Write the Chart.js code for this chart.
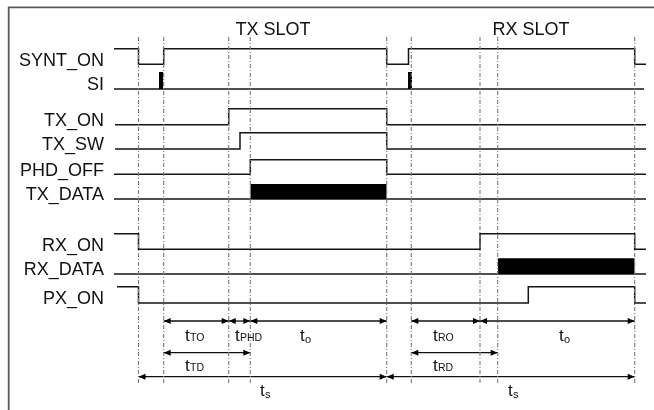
<!DOCTYPE html>
<html>
<head>
<meta charset="utf-8">
<script src="https://cdn.jsdelivr.net/npm/chart.js@4"></script>
<style>
  html, body { margin: 0; padding: 0; background: #fff; }
  #wrap { width: 654px; height: 410px; }
</style>
</head>
<body>
<div id="wrap"><canvas id="chart"></canvas></div>
<script>
// time axis runs 0..654, level axis 0..410 (top to bottom)
const signalNames = ['SYNT_ON', 'SI', 'TX_ON', 'TX_SW', 'PHD_OFF', 'TX_DATA', 'RX_ON', 'RX_DATA', 'PX_ON'];
const lowLevels  = [64.3, 89, 124.7, 149, 174.3, 199, 249.3, 274, 303];
const highLevels = [48.7, 72, 108.7, 132.7, 159.7, 184, 233.7, 258.3, 286.7];

// [time, state] : state holds from that time on
const syntOn = [[114, 1], [138.5, 0], [163.7, 1], [386.7, 0], [408.5, 1], [634.7, 0], [646, 0]];
const si     = [[114, 0], [644, 0]];
const txOn   = [[115, 0], [228.7, 1], [386.7, 0], [646, 0]];
const txSw   = [[115, 0], [240, 1], [386.7, 0], [646, 0]];
const phdOff = [[114, 0], [250.3, 1], [386.7, 0], [646, 0]];
const txData = [[114, 0], [646, 0]];
const rxOn   = [[114, 1], [138.5, 0], [480, 1], [634.7, 0], [646, 0]];
const rxData = [[114, 0], [646, 0]];
const pxOn   = [[117, 1], [138.5, 0], [528.3, 1], [634.7, 0], [646, 0]];
const waves = [syntOn, si, txOn, txSw, phdOff, txData, rxOn, rxData, pxOn];
const heavyLead = [false, false, true, true, true, true, false, false, false];

// filled pulses / data bursts: [signal index, start, end]
const bursts = [[1, 159, 163.3], [1, 408, 412], [5, 250.3, 386.7], [7, 497.7, 634.7]];

// dashed reference instants
const markers = [138.5, 163.7, 228.7, 250.3, 386.7, 411.3, 480, 497.7, 634.7];
const markerTop = 37;
const markerBottom = 385;

// interval arrows
const spanFrom = [163.7, 228.7, 250.3, 411.3, 480, 163.7, 411.3, 138.5, 386.7];
const spanTo   = [228.7, 250.3, 386.7, 480, 634.7, 250.3, 497.7, 386.7, 634.7];
const spanRow  = [0, 0, 0, 0, 0, 1, 1, 2, 2];
const rowLevels = [321, 352.7, 376.7];

// interval labels
const spanSub   = ['TO', 'PHD', 'o', 'RO', 'o', 'TD', 'RD', 's', 's'];
const spanTextX = [185, 235, 300, 433, 559, 185, 433, 260, 508];
const spanTextY = [340.5, 340.5, 340.5, 340.5, 340.5, 371, 371, 395.5, 395.5];

const slotTitles = ['TX SLOT', 'RX SLOT'];
const slotX = [273, 531];
const slotY = 35.3;

const datasets = [];

// frame
datasets.push({
  data: [{x: 8.7, y: 420}, {x: 8.7, y: 7.3}, {x: 670, y: 7.3}],
  borderColor: '#5a5a5a', borderWidth: 1.8
});

markers.forEach(m => datasets.push({
  data: [{x: m, y: markerTop}, {x: m, y: markerBottom}],
  borderColor: '#7a7a7a', borderWidth: 1.1, borderDash: [4, 2, 1, 2]
}));

bursts.forEach(b => datasets.push({
  data: [{x: b[1], y: highLevels[b[0]]}, {x: b[2], y: highLevels[b[0]]}],
  borderWidth: 0, backgroundColor: '#000',
  fill: {value: lowLevels[b[0]]}
}));

waves.forEach((w, i) => datasets.push({
  data: w.map(e => ({x: e[0], y: e[1] ? highLevels[i] : lowLevels[i]})),
  stepped: 'before',
  borderColor: '#151515', borderWidth: 1.5,
  segment: {
    borderWidth: ctx => (heavyLead[i] && ctx.p1.parsed.x <= 139) ? 2.4 : 1.5,
    borderColor: ctx => (heavyLead[i] && ctx.p1.parsed.x <= 139) ? '#000' : '#151515'
  }
}));

const arrowStart = datasets.length;
spanFrom.forEach((f, i) => datasets.push({
  data: [{x: f, y: rowLevels[spanRow[i]]}, {x: spanTo[i], y: rowLevels[spanRow[i]]}],
  borderColor: '#111', borderWidth: 1.3
}));

const decor = {
  id: 'decor',
  afterDatasetsDraw(chart) {
    const {ctx, scales: {x, y}} = chart;
    ctx.save();
    // arrowheads
    ctx.fillStyle = '#000';
    for (let i = 0; i < spanFrom.length; i++) {
      const pts = chart.getDatasetMeta(arrowStart + i).data;
      const a = pts[0], b = pts[1];
      [[a.x, 1], [b.x, -1]].forEach(([px, dir]) => {
        ctx.beginPath();
        ctx.moveTo(px, a.y);
        ctx.lineTo(px + dir * 7, a.y - 3);
        ctx.lineTo(px + dir * 7, a.y + 3);
        ctx.closePath();
        ctx.fill();
      });
    }
    // signal names
    ctx.fillStyle = '#111';
    ctx.font = '18px "Liberation Sans", Arial, sans-serif';
    ctx.textAlign = 'right';
    ctx.textBaseline = 'alphabetic';
    signalNames.forEach((n, i) => {
      ctx.fillText(n, x.getPixelForValue(104), y.getPixelForValue(lowLevels[i] + 1.2));
    });
    // slot titles
    ctx.textAlign = 'center';
    slotTitles.forEach((t, i) => {
      ctx.fillText(t, x.getPixelForValue(slotX[i]), y.getPixelForValue(slotY));
    });
    // interval labels
    ctx.textAlign = 'left';
    spanSub.forEach((s, i) => {
      const px = x.getPixelForValue(spanTextX[i]);
      const py = y.getPixelForValue(spanTextY[i]);
      ctx.font = '17px "Liberation Sans", Arial, sans-serif';
      ctx.fillText('t', px, py);
      const w = ctx.measureText('t').width;
      const lower = s === s.toLowerCase();
      ctx.font = (lower ? '11px' : '10.5px') + ' "Liberation Sans", Arial, sans-serif';
      ctx.fillText(s, px + w + 0.3, py + (lower ? 2 : 0));
    });
    ctx.restore();
  }
};

new Chart(document.getElementById('chart'), {
  type: 'scatter',
  data: {datasets: datasets.map(d => Object.assign({showLine: true, pointRadius: 0, fill: false}, d))},
  options: {
    animation: false,
    responsive: true,
    maintainAspectRatio: false,
    layout: {padding: 0},
    events: [],
    scales: {
      x: {type: 'linear', min: 0, max: 654, display: false},
      y: {type: 'linear', min: 0, max: 410, reverse: true, display: false}
    },
    plugins: {
      legend: {display: false},
      tooltip: {enabled: false}
    }
  },
  plugins: [decor]
});
</script>
</body>
</html>
